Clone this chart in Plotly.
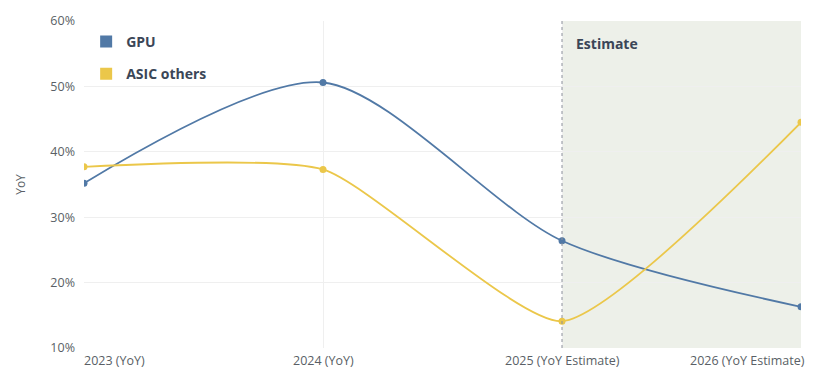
import plotly.graph_objects as go

categories = ["2023 (YoY)", "2024 (YoY)", "2025 (YoY Estimate)", "2026 (YoY Estimate)"]
gpu = [35.2, 50.6, 26.4, 16.3]
asic = [37.7, 37.3, 14.1, 44.5]
y_ticks = [10, 20, 30, 40, 50, 60]

GPU_COLOR = "#5179a6"
ASIC_COLOR = "#ebc74a"
TEXT_DARK = "#3b4657"
TICK_GRAY = "#5a5f66"
FONT = "Open Sans"

fig = go.Figure()

for name, vals, color, smooth in [("GPU", gpu, GPU_COLOR, 0.8), ("ASIC others", asic, ASIC_COLOR, 0.55)]:
    fig.add_trace(go.Scatter(
        x=categories, y=vals, mode="lines+markers", name=name,
        line=dict(color=color, width=1.8, shape="spline", smoothing=smooth),
        marker=dict(color=color, size=7),
        showlegend=False, hoverinfo="x+y",
    ))
    # square legend key
    fig.add_trace(go.Scatter(
        x=[None], y=[None], mode="markers", name=name, legendgroup=name,
        marker=dict(color=color, size=12, symbol="square"),
        showlegend=True,
    ))

# estimate period shading and divider
fig.add_shape(type="rect", xref="x", yref="paper", x0=2, x1=3, y0=0, y1=1,
              fillcolor="#edf0e9", line=dict(width=0), layer="below")
fig.add_shape(type="line", xref="x", yref="paper", x0=2, x1=2, y0=0, y1=1,
              line=dict(color="#8c919a", width=1, dash="dot"))
fig.add_annotation(x=2, y=0.93, xref="x", yref="paper", text="<b>Estimate</b>",
                   showarrow=False, xanchor="left", yanchor="middle", xshift=12,
                   font=dict(family=FONT, size=14, color=TEXT_DARK))

# category labels under the axis, edge labels kept inside the frame
anchors = ["left", "center", "center", "right"]
for i, (cat, anc) in enumerate(zip(categories, anchors)):
    fig.add_annotation(x=i, y=0, xref="x", yref="paper", text=cat, showarrow=False,
                       xanchor=anc, yanchor="top", yshift=-2,
                       xshift=-2 if anc == "left" else (6 if anc == "right" else 0),
                       font=dict(family=FONT, size=12.5, color=TICK_GRAY))

fig.update_layout(
    width=816, height=369,
    margin=dict(l=84, r=15, t=18, b=21),
    paper_bgcolor="white", plot_bgcolor="white",
    font=dict(family=FONT, color=TICK_GRAY),
    legend=dict(x=0.003, y=0.985, xanchor="left", yanchor="top",
                bgcolor="rgba(0,0,0,0)", traceorder="grouped", tracegroupgap=11,
                font=dict(family=FONT, size=14, color=TEXT_DARK, weight="bold")),
    xaxis=dict(type="category", range=[0, 3], showticklabels=False,
               showgrid=True, gridcolor="#efefef", zeroline=False,
               showline=False, ticks=""),
    yaxis=dict(range=[10, 60], tickmode="array", tickvals=y_ticks,
               ticktext=[f"{v}%" for v in y_ticks],
               showgrid=True, gridcolor="#efefef", zeroline=False,
               showline=False, ticks="", ticklabelstandoff=8,
               tickfont=dict(family=FONT, size=12.5, color=TICK_GRAY),
               title=dict(text="YoY", standoff=22,
                          font=dict(family=FONT, size=12, color=TICK_GRAY))),
)

fig.write_html("out.html")
